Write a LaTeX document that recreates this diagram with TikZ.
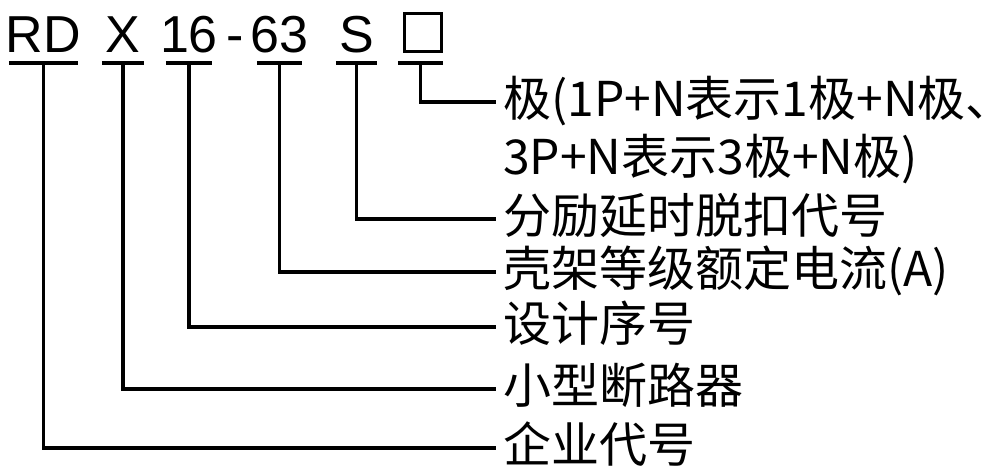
\documentclass[tikz,border=0pt]{standalone}
\usepackage{fontspec}
\setmainfont{Liberation Sans}
\newfontfamily\cjk{Noto Sans CJK SC}
\usetikzlibrary{positioning}
\setlength{\fboxrule}{3pt}
\setlength{\fboxsep}{0pt}
\tikzset{
	part/.style={inner sep=0, anchor=base, text depth=11pt, font=\fontsize{52pt}{60pt}\selectfont},
	lead/.style={line width=3.8pt},
	note/.style={inner ysep=0, inner xsep=7pt, anchor=west, text height=38pt, text depth=10pt, font=\cjk\fontsize{48pt}{58pt}\selectfont}
}
\newcommand{\codepart}[4]{
	\node [part] (#1) at (#2,52) {\makebox[#3pt]{#4}};
	\draw [lead] (#1.south west) -- (#1.south east);
}

\begin{document}
\begin{tikzpicture}[x=1pt, y=-1pt]
\useasboundingbox (0,0) rectangle (984,467);
% type code
\foreach \n/\x/\w/\t in {rd/43.5/69/RD, x/123/42/X, sn/189/46/16, fr/279.5/45/63, s/356.5/41/S}{
	\codepart{\n}{\x}{\w}{\t}
}
\node [part] (dash) at (235,52) {-};
\codepart{pole}{420.5}{45}{\hspace{5pt}\raisebox{2pt}{\fbox{\rule{0pt}{35pt}\hspace{34pt}}}}

% meanings
\node [note] (lpole) at (496,102) {极(1P+N表示1极+N极\rlap{、}};
\node [note, below=10pt of lpole.south west, anchor=north west] (lpole2) {3P+N表示3极+N极)};
\draw [lead] (pole.south) |- (lpole.west);
\foreach \n/\y/\t in {s/219/分励延时脱扣代号, fr/272/壳架等级额定电流(A), sn/327/设计序号, x/389/小型断路器, rd/448/企业代号}{
	\node [note] (l\n) at (496,\y) {\t};
	\draw [lead] (\n.south) |- (l\n.west);
}
\end{tikzpicture}
\end{document}
